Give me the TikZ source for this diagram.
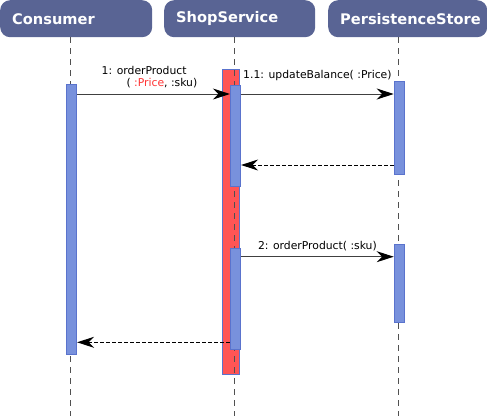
\documentclass[tikz,border=0pt]{standalone}
\usepackage{fontspec}
\setmainfont{DejaVu Sans}
\usetikzlibrary{arrows.meta}
\definecolor{slate}{RGB}{89,100,148}
\definecolor{actblue}{RGB}{120,145,220}
\definecolor{actedge}{RGB}{90,115,205}
\definecolor{busyred}{RGB}{255,85,85}
\definecolor{lifegray}{RGB}{80,80,80}
\definecolor{argred}{RGB}{255,50,50}

\begin{document}
\begin{tikzpicture}[
  x=1pt, y=-1pt,
  font=\fontsize{10.8}{11.5}\selectfont,
  >={Stealth[length=17pt,width=11pt,inset=5.5pt,color=black]},
  actor/.style={fill=slate, rounded corners=10pt, anchor=north west,
    minimum height=37pt, inner xsep=12pt, inner ysep=0pt,
    text width=#1, align=left, text=white,
    font=\fontsize{14.6}{16}\selectfont\bfseries},
  lifeline/.style={draw=lifegray, line width=1.6pt,
    dash pattern=on 6pt off 5pt},
  activation/.style={draw=actedge, fill=actblue, rectangle, anchor=north,
    minimum width=10.4pt, inner sep=0pt, line width=0.8pt},
  busy/.style={activation, fill=busyred, minimum width=16.3pt},
  call/.style={->, draw=black!75, line width=1pt},
  reply/.style={->, draw=black, line width=1pt,
    dash pattern=on 4pt off 2pt},
  msg/.style={inner sep=1pt, align=left}
]
\useasboundingbox (0,0) rectangle (487,416);

% Participants
\node[actor=128pt] (consumer) at (0,0) {Consumer};
\node[actor=127pt] (shop) at (164,0) {ShopService};
\node[actor=135pt] (store) at (328,0) {\makebox[135pt][l]{PersistenceStore}};

% Lifelines (the shop one goes over its red box)
\coordinate (consLine) at (70.5,37);
\coordinate (shopLine) at (234.5,37);
\coordinate (storeLine) at (398.5,37);
\coordinate (bottom) at (0,416);
\draw[lifeline] (consLine) -- (consLine |- bottom);
\draw[lifeline] (storeLine) -- (storeLine |- bottom);
\node[busy, minimum height=305pt] (shopBusy) at (231,69) {};
\draw[lifeline] (shopLine) -- (shopLine |- bottom);

% Activation bars
\node[activation, minimum height=270pt] (consAct) at (71.5,84) {};
\node[activation, minimum height=101pt] (shopAct1) at (235.5,85) {};
\node[activation, minimum height=101.3pt] (shopAct2) at (235.5,247.7) {};
\node[activation, minimum height=92.7pt] (storeAct1) at (399.3,81) {};
\node[activation, minimum height=78pt] (storeAct2) at (399.3,244) {};

% Messages
\coordinate (row1) at (0,94);
\coordinate (row2) at (0,165);
\coordinate (row3) at (0,256.7);
\coordinate (row4) at (0,342.3);
\draw[call] (row1 -| consAct.east) -- node[msg, above=5pt, xshift=-4pt]
  {1: orderProduct\\\hspace*{2.3em}( \textcolor{argred}{:Price}, :sku)}
  (row1 -| shopAct1.west);
\draw[call] (row1 -| shopAct1.east) -- node[msg, above=12pt]
  {1.1: updateBalance( :Price)} (row1 -| storeAct1.west);
\draw[reply] (row2 -| storeAct1.west) -- (row2 -| shopAct1.east);
\draw[call] (row3 -| shopAct2.east) -- node[msg, above=4pt]
  {2: orderProduct( :sku)} (row3 -| storeAct2.west);
\draw[reply] (row4 -| shopAct2.west) -- (row4 -| consAct.east);

\end{tikzpicture}
\end{document}
